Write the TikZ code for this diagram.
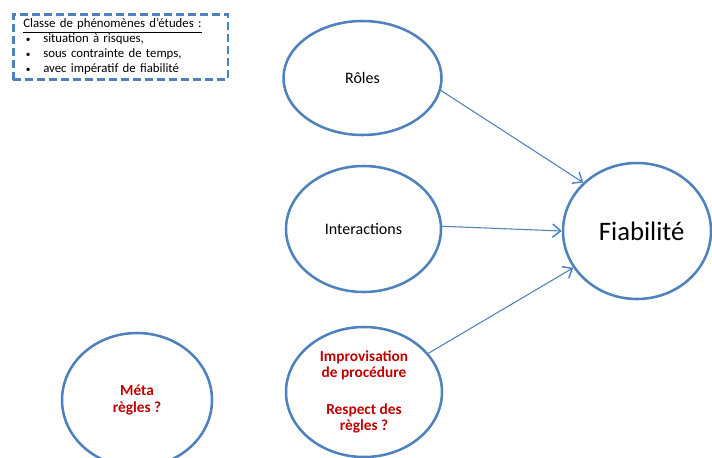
\documentclass[tikz,border=0pt]{standalone}
\usepackage{fontspec}
\setmainfont{Carlito}
\usetikzlibrary{arrows.meta, shapes.geometric}
\definecolor{bleu}{HTML}{4F81BD}
\definecolor{rouge}{HTML}{C00000}
\newcommand{\puce}{\hspace*{2pt}\makebox[13pt][l]{\fontsize{7}{7}\selectfont\textbullet}}

\begin{document}
\begin{tikzpicture}[x=0.75pt, y=-0.75pt, >={Straight Barb[length=6pt, width=10pt, line width=1.1pt]},
    bulle/.style={ellipse, draw=bleu, line width=1.9pt, inner sep=0pt, align=center},
    titre/.style={font=\fontsize{12}{14.4}\selectfont},
    question/.style={text=rouge, font=\fontsize{11.5}{12.4}\selectfont\bfseries},
    lien/.style={->, draw=bleu, line width=0.8pt},
    boite/.style={draw=bleu, dash pattern=on 6pt off 3pt, line width=1.9pt,
      minimum width=161pt, minimum height=49pt, text width=146pt, inner xsep=7.5pt,
      inner ysep=2pt, align=left, font=\fontsize{9.6}{11.25}\selectfont}]
  \useasboundingbox (0,0) rectangle (712,457);
  \clip (0,0) rectangle (712,457);

  % cadre des phenomenes
  \node[boite, anchor=north west] (etudes) at (12,13) {\underline{Classe de phénomènes d’études :}\\
    \puce situation à risques,\\
    \puce sous contrainte de temps,\\
    \puce avec impératif de fiabilité};

  % bulles
  \node[bulle, titre, minimum width=118.5pt, minimum height=85.5pt] (roles) at (362.5,78) {Rôles};
  \node[bulle, titre, minimum width=116.25pt, minimum height=94.5pt] (inter) at (363.5,229) {Interactions};
  \node[bulle, question, minimum width=117pt, minimum height=97.5pt] (improv) at (364,392)
    {Improvisation\\de procédure\\[15pt]Respect des\\règles ?};
  \node[bulle, question, minimum width=112.5pt, minimum height=100.5pt] (meta) at (137,400) {Méta\\règles ?};
  \node[bulle, font=\fontsize{20}{24}\selectfont, minimum width=111pt, minimum height=102pt] (fiab) at (637,231) {\hspace*{7pt}Fiabilité};

  % liens
  \draw[lien] (roles.-9) -- (fiab.138);
  \draw[lien] (inter.2) -- (fiab.180);
  \draw[lien] (improv.31) -- (fiab.-150);
\end{tikzpicture}
\end{document}
